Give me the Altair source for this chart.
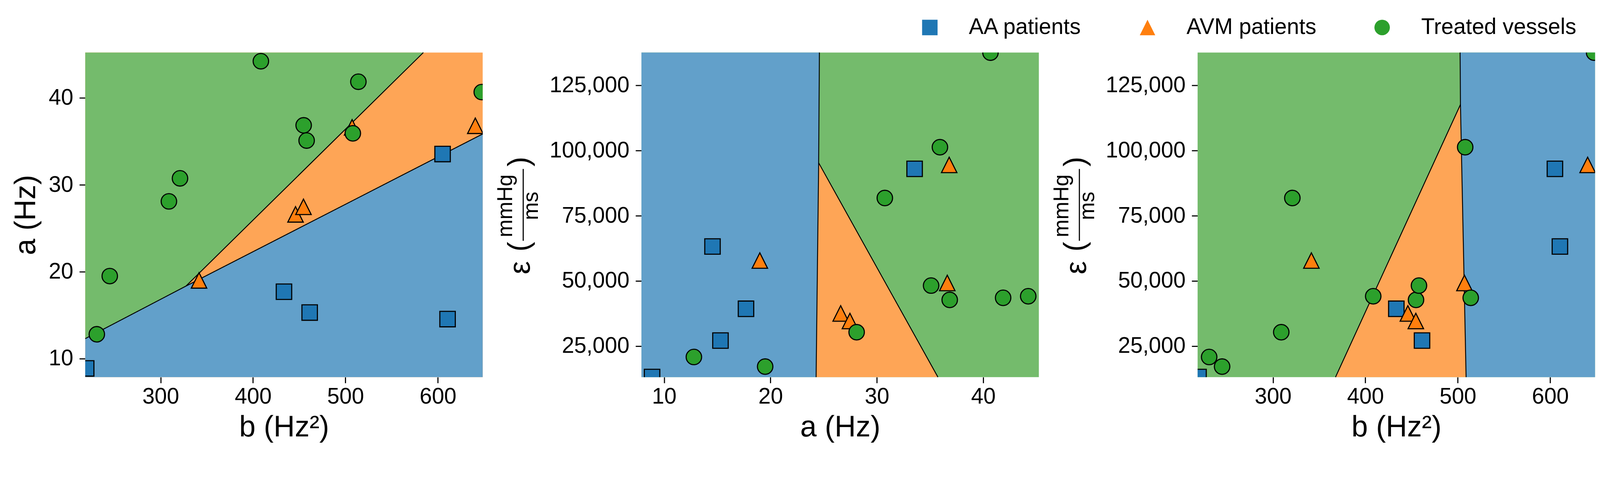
import altair as alt
import pandas as pd

# ---------------- data ----------------
groups = ["AA patients", "AVM patients", "Treated vessels"]
marker_colors = ["#1f77b4", "#ff7f0e", "#2ca02c"]
marker_shapes = ["M-1,-1L1,-1L1,1L-1,1Z", "M0,-1L1,1L-1,1Z", "circle"]

aa_a = [8.87, 17.7, 15.3, 14.55, 33.55]
aa_b = [219.5, 433.5, 461.3, 610.5, 605.1]
aa_eps = [13100, 39300, 27100, 63200, 93000]

avm_a = [19.0, 26.6, 27.47, 36.62, 36.8]
avm_b = [341.6, 446.0, 454.6, 507.2, 640.5]
avm_eps = [57800, 37500, 34600, 49200, 94500]

tv_a = [12.8, 19.5, 28.1, 30.75, 44.23, 36.85, 35.1, 35.93, 41.87, 40.68]
tv_b = [231, 245, 309, 321, 408.5, 454.8, 458, 508, 514, 647.5]
tv_eps = [20800, 17100, 30300, 81800, 44100, 42700, 48200, 101300, 43500, 137600]

a_domain = [7.87, 45.23]
b_domain = [218.5, 648.5]
eps_domain = [13070, 137630]

a_ticks = [10, 20, 30, 40]
b_ticks = [300, 400, 500, 600]
eps_ticks = [25000, 50000, 75000, 100000, 125000]

# decision-region boundary vertices (data units)
# panel 1: x = b, y = a
p1_low_b = [218.5, 327.5, 648.5]
p1_low_a = [12.3, 18.35, 35.86]
p1_up_b = [327.5, 584.3]
p1_up_a = [18.35, 45.23]
# panel 2: x = a, y = eps
p2_vert_eps = [13070, 95300, 137630]
p2_vert_a = [24.29, 24.53, 24.6]
p2_diag_eps = [13070, 95300]
p2_diag_a = [35.74, 24.53]
# panel 3: x = b, y = eps
p3_vert_eps = [13070, 117700, 137630]
p3_vert_b = [509.0, 502.9, 502.5]
p3_diag_eps = [13070, 117700]
p3_diag_b = [367.7, 502.9]

region_blue = "#62a0ca"
region_orange = "#fea556"
region_green = "#74bb6c"

FONT = "Liberation Sans"

# ---------------- tables ----------------
pts = pd.DataFrame({
    "a": aa_a + avm_a + tv_a,
    "b": aa_b + avm_b + tv_b,
    "eps": aa_eps + avm_eps + tv_eps,
    "group": [groups[0]] * len(aa_a) + [groups[1]] * len(avm_a) + [groups[2]] * len(tv_a),
})

legend = alt.Legend(
    title=None, orient="none", legendX=2263, legendY=-98, direction="horizontal",
    labelFontSize=60, labelFont=FONT, labelColor="black", labelOffset=76,
    columnPadding=148, symbolSize=1764, symbolStrokeWidth=3, symbolStrokeColor="black",
    labelLimit=1000, padding=0, symbolOpacity=1,
)

axis_specs = {
    "a": dict(domain=a_domain, ticks=a_ticks, title="a (Hz)", fmt="d"),
    "b": dict(domain=b_domain, ticks=b_ticks, title="b (Hz²)", fmt="d"),
    "eps": dict(domain=eps_domain, ticks=eps_ticks, title=None, fmt=",d"),
}


def X(field, kind):
    s = axis_specs[kind]
    return alt.X(field, type="quantitative",
                 scale=alt.Scale(domain=s["domain"], nice=False, zero=False),
                 axis=alt.Axis(values=s["ticks"], title=s["title"], format=s["fmt"], labelFlush=False))


def Y(field, kind):
    s = axis_specs[kind]
    return alt.Y(field, type="quantitative",
                 scale=alt.Scale(domain=s["domain"], nice=False, zero=False),
                 axis=alt.Axis(values=s["ticks"], title=s["title"], format=s["fmt"], labelFlush=False))


def base_rect(xkind, ykind, color):
    df = pd.DataFrame({"x0": [axis_specs[xkind]["domain"][0]], "x1": [axis_specs[xkind]["domain"][1]],
                       "y0": [axis_specs[ykind]["domain"][0]], "y1": [axis_specs[ykind]["domain"][1]]})
    return alt.Chart(df).mark_rect(color=color, opacity=1).encode(
        x=X("x0", xkind), x2="x1", y=Y("y0", ykind), y2="y1")


def boundary_lines(lines, xkind, ykind):
    rows = []
    for lid, (xs, ys) in enumerate(lines):
        for i, (xv, yv) in enumerate(zip(xs, ys)):
            rows.append({"lx": xv, "ly": yv, "line": lid, "ord": i})
    return alt.Chart(pd.DataFrame(rows)).mark_line(color="black", strokeWidth=2.5).encode(
        x=X("lx", xkind), y=Y("ly", ykind), detail="line:N", order="ord:Q")


def points(xf, xkind, yf, ykind):
    return alt.Chart(pts).mark_point(filled=True, size=1764, stroke="black", strokeWidth=3,
                                     opacity=1, fillOpacity=1, clip=True).encode(
        x=X(xf, xkind), y=Y(yf, ykind),
        color=alt.Color("group:N", scale=alt.Scale(domain=groups, range=marker_colors), legend=legend),
        shape=alt.Shape("group:N", scale=alt.Scale(domain=groups, range=marker_shapes), legend=legend),
    )


def eps_title():
    one = alt.Data(values=[{}])
    parts = [
        alt.Chart(one).mark_text(text="ε", fontSize=80, font=FONT, angle=270, align="center",
                                 baseline="middle", color="black").encode(x=alt.value(-327), y=alt.value(584)),
        alt.Chart(one).mark_text(text="(", fontSize=80, font=FONT, angle=270, align="center",
                                 baseline="middle", color="black").encode(x=alt.value(-331), y=alt.value(527)),
        alt.Chart(one).mark_text(text=")", fontSize=80, font=FONT, angle=270, align="center",
                                 baseline="middle", color="black").encode(x=alt.value(-331), y=alt.value(296)),
        alt.Chart(one).mark_text(text="mmHg", fontSize=58, font=FONT, angle=270, align="center",
                                 baseline="middle", color="black").encode(x=alt.value(-368), y=alt.value(416)),
        alt.Chart(one).mark_text(text="ms", fontSize=58, font=FONT, angle=270, align="center",
                                 baseline="middle", color="black").encode(x=alt.value(-298), y=alt.value(416)),
        alt.Chart(one).mark_rule(color="black", strokeWidth=3).encode(
            x=alt.value(-321), y=alt.value(316), y2=alt.value(511)),
    ]
    return parts


W, H = 1079, 881

# ---------------- panel 1: a vs b ----------------
p1_blue = pd.DataFrame({"bx": p1_low_b, "lo": [a_domain[0]] * 3, "hi": p1_low_a})
p1_green = pd.DataFrame({"bx": [p1_low_b[0], p1_low_b[1], p1_up_b[1]],
                         "lo": [p1_low_a[0], p1_low_a[1], p1_up_a[1]],
                         "hi": [a_domain[1]] * 3})
panel1 = alt.layer(
    base_rect("b", "a", region_orange),
    alt.Chart(p1_blue).mark_area(color=region_blue, opacity=1).encode(
        x=X("bx", "b"), y=Y("lo", "a"), y2="hi"),
    alt.Chart(p1_green).mark_area(color=region_green, opacity=1).encode(
        x=X("bx", "b"), y=Y("lo", "a"), y2="hi"),
    boundary_lines([(p1_low_b, p1_low_a), (p1_up_b, p1_up_a)], "b", "a"),
    points("b", "b", "a", "a"),
).properties(width=W, height=H)

# ---------------- panel 2: eps vs a ----------------
p2_blue = pd.DataFrame({"ey": p2_vert_eps, "lo": [a_domain[0]] * 3, "hi": p2_vert_a})
p2_orange = pd.DataFrame({"ey": p2_diag_eps, "lo": p2_vert_a[:2], "hi": p2_diag_a})
panel2 = alt.layer(
    base_rect("a", "eps", region_green),
    alt.Chart(p2_blue).mark_area(color=region_blue, opacity=1, orient="horizontal").encode(
        y=Y("ey", "eps"), x=X("lo", "a"), x2="hi"),
    alt.Chart(p2_orange).mark_area(color=region_orange, opacity=1, orient="horizontal").encode(
        y=Y("ey", "eps"), x=X("lo", "a"), x2="hi"),
    boundary_lines([(p2_vert_a, p2_vert_eps), (p2_diag_a, p2_diag_eps)], "a", "eps"),
    points("a", "a", "eps", "eps"),
    *eps_title(),
).properties(width=W, height=H)

# ---------------- panel 3: eps vs b ----------------
p3_blue = pd.DataFrame({"ey": p3_vert_eps, "lo": p3_vert_b, "hi": [b_domain[1]] * 3})
p3_orange = pd.DataFrame({"ey": p3_diag_eps, "lo": p3_diag_b, "hi": p3_vert_b[:2]})
panel3 = alt.layer(
    base_rect("b", "eps", region_green),
    alt.Chart(p3_blue).mark_area(color=region_blue, opacity=1, orient="horizontal").encode(
        y=Y("ey", "eps"), x=X("lo", "b"), x2="hi"),
    alt.Chart(p3_orange).mark_area(color=region_orange, opacity=1, orient="horizontal").encode(
        y=Y("ey", "eps"), x=X("lo", "b"), x2="hi"),
    boundary_lines([(p3_vert_b, p3_vert_eps), (p3_diag_b, p3_diag_eps)], "b", "eps"),
    points("b", "b", "eps", "eps"),
    *eps_title(),
).properties(width=W, height=H)

chart = alt.hconcat(panel1, panel2, panel3, spacing=431, bounds="flush").properties(
    padding={"left": 22, "top": 1, "right": 5, "bottom": 5},
    background="white",
).configure_view(stroke=None).configure_axis(
    domain=False, grid=False, ticks=True, tickColor="black", tickWidth=3, tickSize=16,
    labelFont=FONT, labelFontSize=60, labelColor="black", labelLimit=1000,
    titleFont=FONT, titleFontSize=80, titleFontWeight="normal", titleColor="black",
).configure_axisX(labelPadding=8, titlePadding=14).configure_axisY(labelPadding=17, titlePadding=20)

chart.save("out.html", embed_options={"renderer": "svg", "actions": False})
